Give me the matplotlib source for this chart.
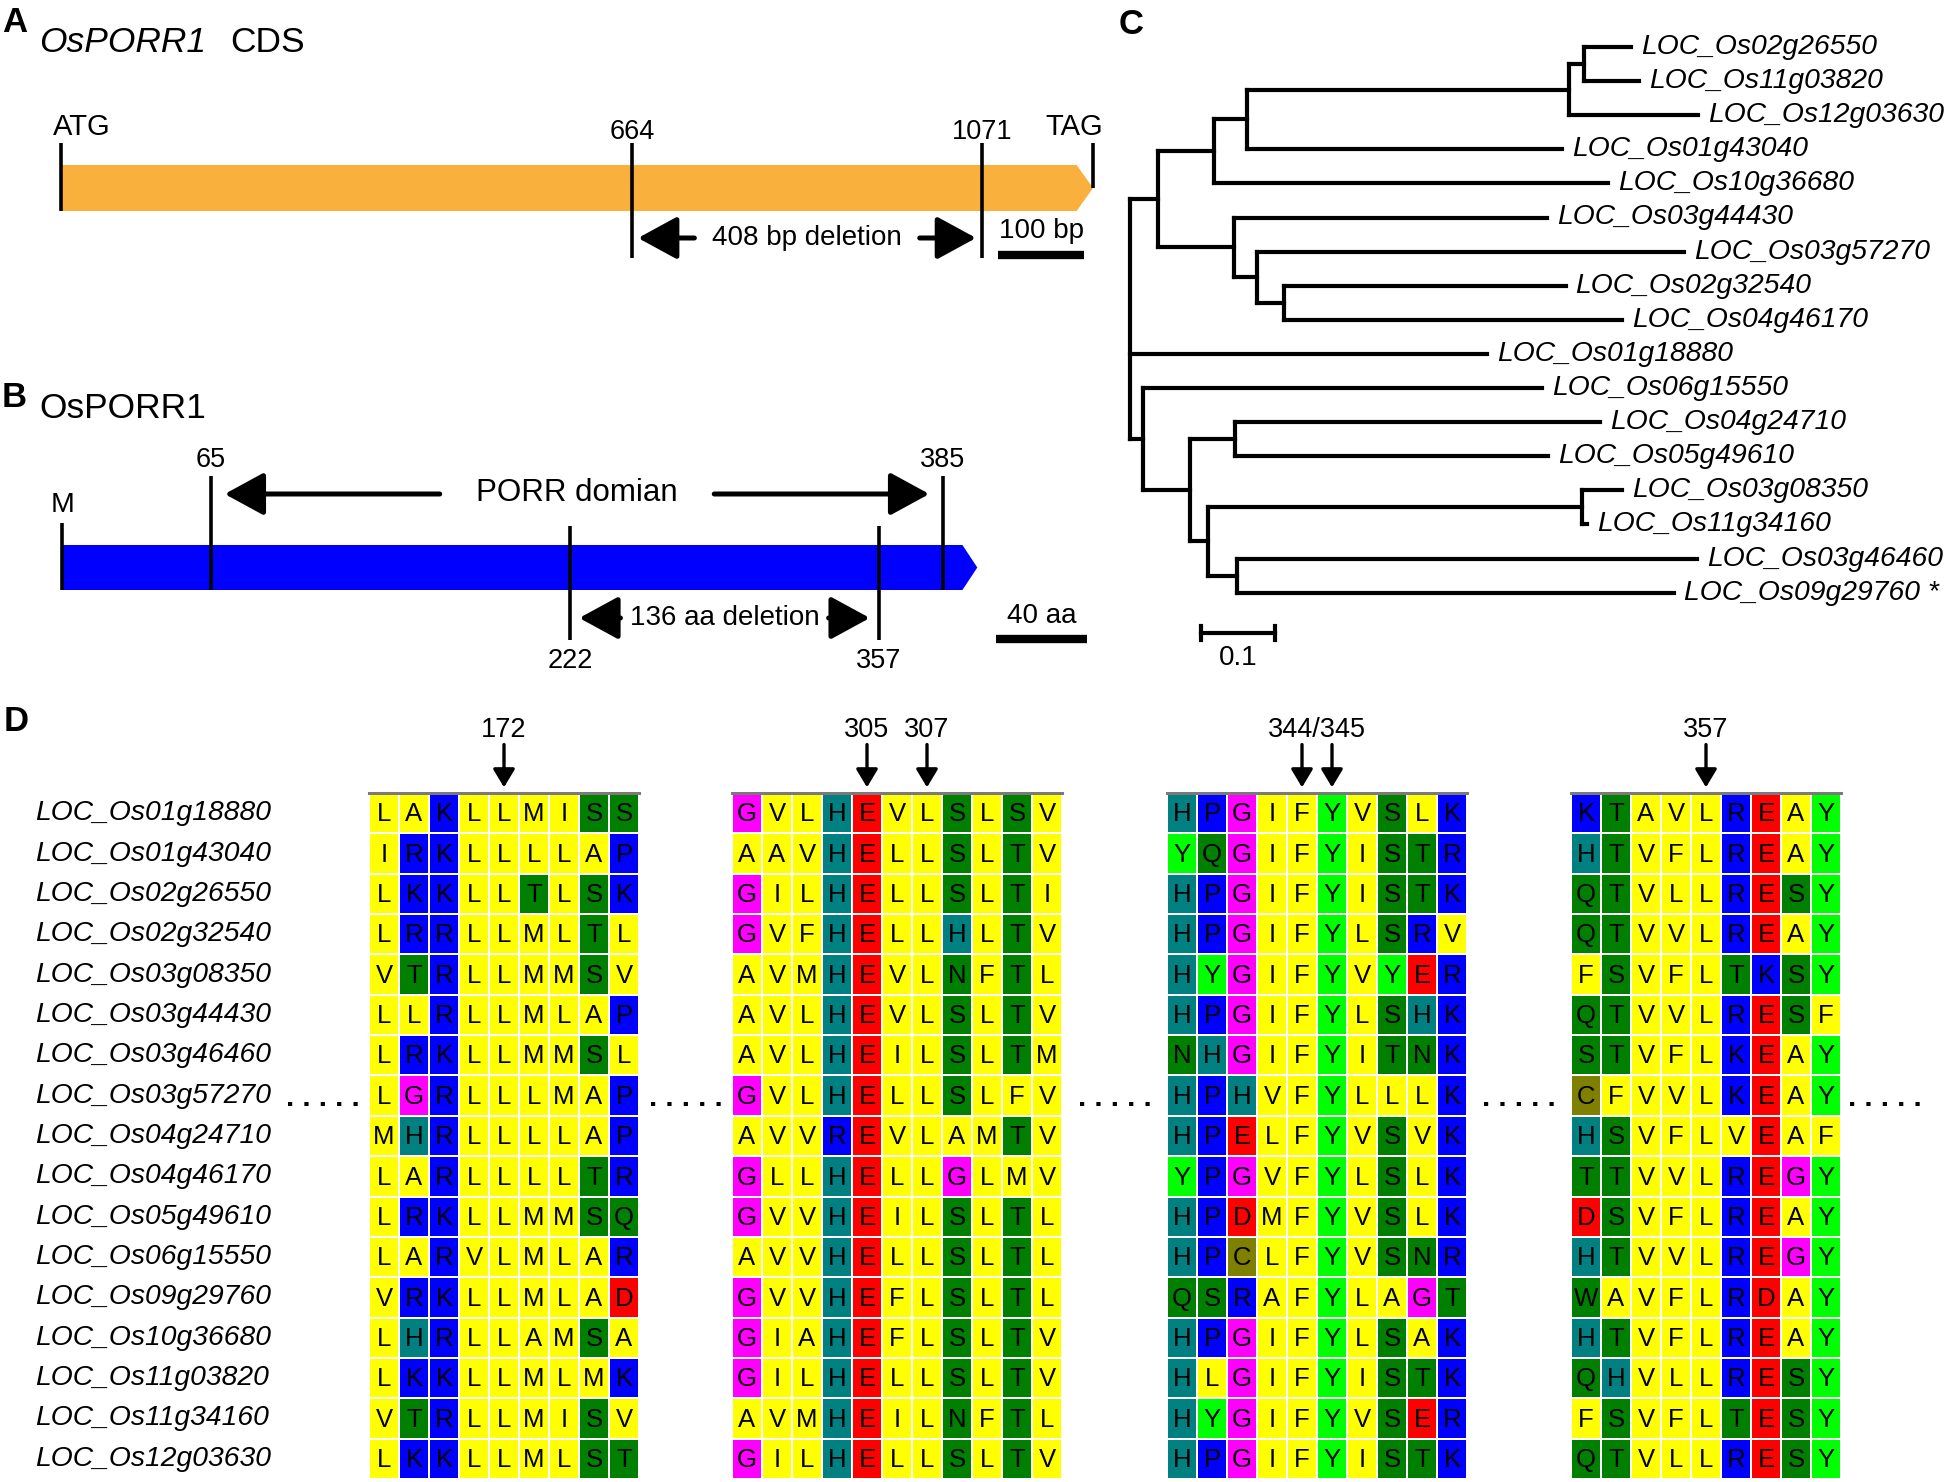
import matplotlib
matplotlib.use("Agg")
import matplotlib.pyplot as plt
import numpy as np
from matplotlib.colors import ListedColormap

# ---------------- data ----------------
# A: OsPORR1 coding sequence (bp)
cds_length = 1200
cds_breaks = [664, 1071]
cds_deletion_label = "408 bp deletion"
cds_scale_bp = 100

# B: OsPORR1 protein (aa)
protein_length = 400
domain_bounds = [65, 385]
protein_breaks = [222, 357]
protein_deletion_label = "136 aa deletion"
protein_scale_aa = 40

# C: tree, branch lengths
tree_newick = (
    "((((((LOC_Os02g26550:0.064,LOC_Os11g03820:0.075):0.021,LOC_Os12g03630:0.175):0.436,"
    "LOC_Os01g43040:0.427):0.045,LOC_Os10g36680:0.534):0.076,(LOC_Os03g44430:0.424,"
    "(LOC_Os03g57270:0.579,(LOC_Os02g32540:0.381,LOC_Os04g46170:0.457):0.037):0.031):0.104):0.038,"
    "LOC_Os01g18880:0.484,(LOC_Os06g15550:0.541,((LOC_Os04g24710:0.495,LOC_Os05g49610:0.424):0.061,"
    "((LOC_Os03g08350:0.054,LOC_Os11g34160:0.007):0.507,(LOC_Os03g46460:0.624,"
    "LOC_Os09g29760:0.593):0.039):0.024):0.064):0.018);"
)
tree_marked = ["LOC_Os09g29760"]
tree_scale = 0.1

# D: alignment
gene_ids = [
    "LOC_Os01g18880", "LOC_Os01g43040", "LOC_Os02g26550", "LOC_Os02g32540",
    "LOC_Os03g08350", "LOC_Os03g44430", "LOC_Os03g46460", "LOC_Os03g57270",
    "LOC_Os04g24710", "LOC_Os04g46170", "LOC_Os05g49610", "LOC_Os06g15550",
    "LOC_Os09g29760", "LOC_Os10g36680", "LOC_Os11g03820", "LOC_Os11g34160",
    "LOC_Os12g03630",
]
block_1 = ["LAKLLMISS", "IRKLLLLAP", "LKKLLTLSK", "LRRLLMLTL", "VTRLLMMSV",
           "LLRLLMLAP", "LRKLLMMSL", "LGRLLLMAP", "MHRLLLLAP", "LARLLLLTR",
           "LRKLLMMSQ", "LARVLMLAR", "VRKLLMLAD", "LHRLLAMSA", "LKKLLMLMK",
           "VTRLLMISV", "LKKLLMLST"]
block_2 = ["GVLHEVLSLSV", "AAVHELLSLTV", "GILHELLSLTI", "GVFHELLHLTV", "AVMHEVLNFTL",
           "AVLHEVLSLTV", "AVLHEILSLTM", "GVLHELLSLFV", "AVVREVLAMTV", "GLLHELLGLMV",
           "GVVHEILSLTL", "AVVHELLSLTL", "GVVHEFLSLTL", "GIAHEFLSLTV", "GILHELLSLTV",
           "AVMHEILNFTL", "GILHELLSLTV"]
block_3 = ["HPGIFYVSLK", "YQGIFYISTR", "HPGIFYISTK", "HPGIFYLSRV", "HYGIFYVYER",
           "HPGIFYLSHK", "NHGIFYITNK", "HPHVFYLLLK", "HPELFYVSVK", "YPGVFYLSLK",
           "HPDMFYVSLK", "HPCLFYVSNR", "QSRAFYLAGT", "HPGIFYLSAK", "HLGIFYISTK",
           "HYGIFYVSER", "HPGIFYISTK"]
block_4 = ["KTAVLREAY", "HTVFLREAY", "QTVLLRESY", "QTVVLREAY", "FSVFLTKSY",
           "QTVVLRESF", "STVFLKEAY", "CFVVLKEAY", "HSVFLVEAF", "TTVVLREGY",
           "DSVFLREAY", "HTVVLREGY", "WAVFLRDAY", "HTVFLREAY", "QHVLLRESY",
           "FSVFLTESY", "QTVLLRESY"]
site_labels = ["172", "305", "307", "344/345", "357"]
site_block = [0, 1, 1, 2, 3]
site_cols = [[4], [4], [6], [4, 5], [4]]

residue_groups = ["LAIMVF", "KRP", "STQNW", "G", "H", "ED", "Y", "C"]
group_colors = ["#FFFF00", "#0000FF", "#007F00", "#FF00FF", "#008080", "#FF0000", "#00FF00", "#808000"]

# ---------------- layout ----------------
W, H = 1946, 1482
plt.rcParams["font.family"] = ["Liberation Sans", "DejaVu Sans"]


def px_axes(fig, x0, y0, x1, y1):
    ax = fig.add_axes([x0 / W, 1 - y1 / H, (x1 - x0) / W, (y1 - y0) / H])
    ax.axis("off")
    return ax


def px_text(fig, x, y, s, **kw):
    fig.text(x / W, 1 - y / H, s, **kw)


def gene_arrow(ax, end, tip, y0, y1, color):
    ym = (y0 + y1) / 2
    ax.fill([0, end - tip, end, end - tip, 0], [y0, y0, ym, y1, y1], color=color, lw=0)


def vline(ax, x, y0, y1, lw=2.6):
    ax.plot([x, x], [y0, y1], color="black", lw=lw, solid_capstyle="butt")


def two_way_arrow(ax, left, right, gap, inset, y, scale=22):
    mid = (left + right) / 2
    style = "-|>,head_length=1.1,head_width=0.6"
    for tail, head in [(mid - gap, left + inset), (mid + gap, right - inset)]:
        ax.annotate("", xy=(head, y), xytext=(tail, y),
                    arrowprops=dict(arrowstyle=style, color="black", lw=3.6,
                                    mutation_scale=scale, shrinkA=0, shrinkB=0))


def parse_newick(s):
    pos = 0

    def node():
        nonlocal pos
        children = []
        if s[pos] == "(":
            pos += 1
            children.append(node())
            while s[pos] == ",":
                pos += 1
                children.append(node())
            pos += 1
        start = pos
        while s[pos] not in ":,);":
            pos += 1
        name = s[start:pos]
        length = 0.0
        if s[pos] == ":":
            pos += 1
            start = pos
            while s[pos] not in ",);":
                pos += 1
            length = float(s[start:pos])
        return {"name": name, "len": length, "children": children}

    return node()


def layout_tree(n, x0, leaves):
    n["x"] = x0 + n["len"]
    if not n["children"]:
        n["y"] = len(leaves)
        leaves.append(n)
    else:
        for c in n["children"]:
            layout_tree(c, n["x"], leaves)
        n["y"] = (n["children"][0]["y"] + n["children"][-1]["y"]) / 2


def draw_tree(ax, n):
    kw = dict(color="black", lw=3.0, solid_capstyle="projecting")
    if n["children"]:
        ys = [c["y"] for c in n["children"]]
        ax.plot([n["x"], n["x"]], [min(ys), max(ys)], **kw)
        for c in n["children"]:
            ax.plot([n["x"], c["x"]], [c["y"], c["y"]], **kw)
            draw_tree(ax, c)
    else:
        label = n["name"] + (" *" if n["name"] in tree_marked else "")
        ax.text(n["x"] + 0.0135, n["y"], label, fontsize=20.3, fontstyle="italic",
                ha="left", va="center")


def _main():
    fig = plt.figure(figsize=(W / 100, H / 100), dpi=100)

    # ---- A ----
    ax_a = px_axes(fig, 0, 0, 1120, 345)
    ax_a.set_xlim(-61 / 0.86, (1120 - 61) / 0.86)
    ax_a.set_ylim(345, 0)
    gene_arrow(ax_a, cds_length, 19, 165, 211, "#F9B03C")
    vline(ax_a, 0, 143, 211)
    vline(ax_a, cds_length, 143, 188)
    for b in cds_breaks:
        vline(ax_a, b, 143, 258)
        ax_a.text(b, 132, str(b), fontsize=19.5, ha="center", va="center")
    ax_a.annotate("ATG", xy=(0, 127), xytext=(-6, 0), textcoords="offset points",
                  fontsize=21, ha="left", va="center")
    ax_a.annotate("TAG", xy=(cds_length, 127), xytext=(7, 0), textcoords="offset points",
                  fontsize=21, ha="right", va="center")
    ax_a.text(np.mean(cds_breaks), 238, cds_deletion_label, fontsize=20, ha="center", va="center")
    two_way_arrow(ax_a, cds_breaks[0], cds_breaks[1], 131, 7, 238)
    sb_end = 1190
    ax_a.plot([sb_end - cds_scale_bp, sb_end], [255, 255], color="black", lw=6, solid_capstyle="butt")
    ax_a.text(sb_end - cds_scale_bp / 2, 231, f"{cds_scale_bp} bp", fontsize=20, ha="center", va="center")
    px_text(fig, 2, 6, "A", fontsize=25, fontweight="bold", va="top")
    px_text(fig, 39, 42, "OsPORR1", fontsize=25.5, fontstyle="italic", va="center")
    px_text(fig, 230, 42, "CDS", fontsize=25.5, va="center")

    # ---- B ----
    ax_b = px_axes(fig, 0, 345, 1120, 700)
    ax_b.set_xlim(-62.3 / 2.2875, (1120 - 62.3) / 2.2875)
    ax_b.set_ylim(700, 345)
    gene_arrow(ax_b, protein_length, 6.5, 545, 590, "#0000FF")
    vline(ax_b, 0, 523, 590)
    ax_b.text(0, 505, "M", fontsize=20.5, ha="center", va="center")
    for d in domain_bounds:
        vline(ax_b, d, 476, 590)
        ax_b.text(d, 460, str(d), fontsize=19.5, ha="center", va="center")
    for d in protein_breaks:
        vline(ax_b, d, 526, 640)
        ax_b.text(d, 661, str(d), fontsize=19.5, ha="center", va="center")
    ax_b.text(np.mean(domain_bounds), 493, "PORR domian", fontsize=22.5, ha="center", va="center")
    two_way_arrow(ax_b, domain_bounds[0], domain_bounds[1], 60, 6, 494)
    ax_b.text(np.mean(protein_breaks), 618, protein_deletion_label, fontsize=20, ha="center", va="center")
    two_way_arrow(ax_b, protein_breaks[0], protein_breaks[1], 45.5, 4, 618)
    pb_end = 448
    ax_b.plot([pb_end - protein_scale_aa, pb_end], [639, 639], color="black", lw=6, solid_capstyle="butt")
    ax_b.text(pb_end - protein_scale_aa / 2, 616, f"{protein_scale_aa} aa", fontsize=20, ha="center", va="center")
    px_text(fig, 2, 381, "B", fontsize=25, fontweight="bold", va="top")
    px_text(fig, 39, 408, "OsPORR1", fontsize=25.5, va="center")

    # ---- C ----
    ax_c = px_axes(fig, 1100, 0, 1946, 700)
    ax_c.set_xlim((1100 - 1129.5) / 738, (1946 - 1129.5) / 738)
    ax_c.set_ylim((700 - 47) / 34.1, -47 / 34.1)
    root = parse_newick(tree_newick)
    layout_tree(root, 0.0, [])
    draw_tree(ax_c, root)
    sb_x0, sb_y = 0.097, 17.18
    ax_c.plot([sb_x0, sb_x0 + tree_scale], [sb_y, sb_y], color="black", lw=3.0)
    for x in (sb_x0, sb_x0 + tree_scale):
        ax_c.plot([x, x], [sb_y - 0.2, sb_y + 0.2], color="black", lw=3.0)
    ax_c.text(sb_x0 + tree_scale / 2, 17.93, f"{tree_scale}", fontsize=20, ha="center", va="center")
    px_text(fig, 1119, 8, "C", fontsize=25, fontweight="bold", va="top")

    # ---- D ----
    cmap = ListedColormap(group_colors)
    row_top, row_h, col_w = 793, 40.35, 30
    block_lefts = [369, 732, 1167, 1571]
    block_axes = []
    for blk, left in zip([block_1, block_2, block_3, block_4], block_lefts):
        n = len(blk[0])
        ax = px_axes(fig, left, row_top, left + n * col_w, row_top + len(blk) * row_h)
        codes = np.array([[next(g for g, grp in enumerate(residue_groups) if ch in grp)
                           for ch in seq] for seq in blk])
        ax.pcolormesh(np.arange(n + 1), np.arange(len(blk) + 1), codes, cmap=cmap,
                      vmin=-0.5, vmax=len(group_colors) - 0.5, edgecolors="white", linewidth=1.4)
        ax.set_xlim(0, n)
        ax.set_ylim(len(blk), 0)
        for i, seq in enumerate(blk):
            for j, ch in enumerate(seq):
                ax.text(j + 0.5, i + 0.53, ch, fontsize=18.5, ha="center", va="center")
        ax.plot([0, n], [0, 0], color="#7A7A7A", lw=2.2, clip_on=False)
        block_axes.append(ax)

    for label, b, cols in zip(site_labels, site_block, site_cols):
        ax = block_axes[b]
        for c in cols:
            ax.annotate("", xy=(c + 0.5, -0.14), xytext=(c + 0.5, -1.2), annotation_clip=False,
                        arrowprops=dict(arrowstyle="-|>,head_length=1.0,head_width=0.6",
                                        color="black", lw=2.4, mutation_scale=11,
                                        shrinkA=0, shrinkB=0))
        ax.text(np.mean(cols) + 0.5, -1.57, label, fontsize=19.5, ha="center", va="center")

    for i, gid in enumerate(gene_ids):
        px_text(fig, 35, row_top + (i + 0.5) * row_h, gid, fontsize=20.3, fontstyle="italic", va="center")

    dot_row = gene_ids.index("LOC_Os03g57270")
    dot_y = row_top + (dot_row + 0.5) * row_h + 10
    for x in [323, 685.5, 1114.5, 1519, 1885]:
        px_text(fig, x, dot_y, ". . . . .", fontsize=21, fontweight="bold", ha="center", va="baseline")

    px_text(fig, 4, 705, "D", fontsize=25, fontweight="bold", va="top")

    fig.savefig("out.png", dpi=100)


if __name__ == "__main__":
    _main()
